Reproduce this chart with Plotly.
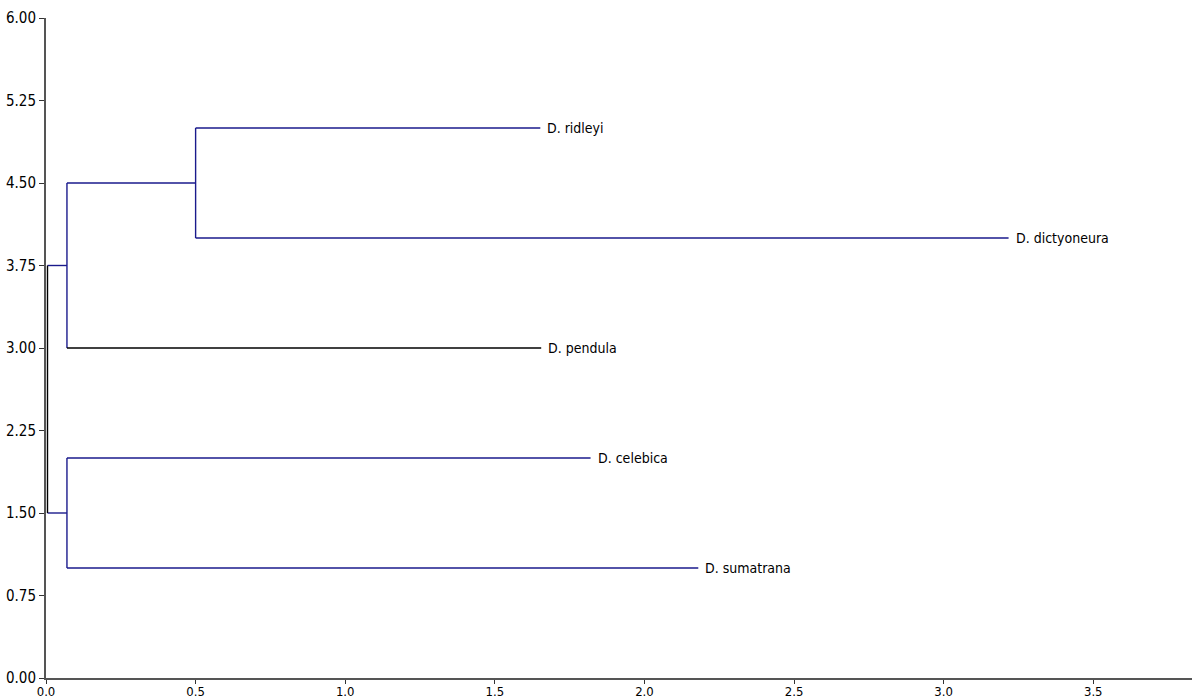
import plotly.graph_objects as go

# Leaves (top to bottom)
leaf_names = ["D. ridleyi", "D. dictyoneura", "D. pendula", "D. celebica", "D. sumatrana"]
leaf_y = [5.0, 4.0, 3.0, 2.0, 1.0]
leaf_x = [1.652, 3.217, 1.655, 1.82, 2.18]

# Internal nodes: name, x (height), children
node_names = ["N1", "N2", "N3", "root"]
node_x = [0.5, 0.07, 0.07, 0.005]
node_children = [["D. ridleyi", "D. dictyoneura"], ["N1", "D. pendula"],
                 ["D. celebica", "D. sumatrana"], ["N2", "N3"]]
black_edges = ["D. pendula"]

x_ticks = [0.0, 0.5, 1.0, 1.5, 2.0, 2.5, 3.0, 3.5]
y_ticks = [0.0, 0.75, 1.5, 2.25, 3.0, 3.75, 4.5, 5.25, 6.0]

NAVY = "#1a1a8c"
FONT = "DejaVu Sans Condensed, Liberation Sans Narrow, Arial Narrow, Liberation Sans, Arial, sans-serif"

pos = {n: (x, y) for n, x, y in zip(leaf_names, leaf_x, leaf_y)}
for name, x, ch in zip(node_names, node_x, node_children):
    ys = [pos[c][1] for c in ch]
    pos[name] = (x, sum(ys) / len(ys))

seg = {"navy": ([], []), "black": ([], [])}
for name, x, ch in zip(node_names, node_x, node_children):
    ys = [pos[c][1] for c in ch]
    vcol = "black" if name == "root" else "navy"
    seg[vcol][0].extend([x, x, None]); seg[vcol][1].extend([min(ys), max(ys), None])
    for c in ch:
        cx, cy = pos[c]
        col = "black" if c in black_edges else "navy"
        seg[col][0].extend([x, cx, None]); seg[col][1].extend([cy, cy, None])

fig = go.Figure()
fig.add_trace(go.Scatter(x=seg["navy"][0], y=seg["navy"][1], mode="lines",
                         line=dict(color=NAVY, width=1.4), hoverinfo="skip", showlegend=False))
fig.add_trace(go.Scatter(x=seg["black"][0], y=seg["black"][1], mode="lines",
                         line=dict(color="black", width=1.4), hoverinfo="skip", showlegend=False))

for n, x, y in zip(leaf_names, leaf_x, leaf_y):
    fig.add_annotation(x=x, y=y, text=n, showarrow=False, xanchor="left", yanchor="middle",
                       xshift=5, font=dict(family=FONT, size=14, color="black"))

fig.update_layout(
    width=1192, height=699,
    margin=dict(l=46, r=0, t=18, b=21),
    paper_bgcolor="white", plot_bgcolor="white",
    xaxis=dict(range=[0, 3.83], tickvals=x_ticks, ticktext=[f"{v:.1f}" for v in x_ticks],
               showgrid=False, zeroline=False, showline=True, linecolor="#555", linewidth=2,
               ticks="outside", ticklen=4, tickcolor="#333", automargin=False,
               ticklabelstandoff=-4,
               tickfont=dict(family=FONT, size=13, color="black")),
    yaxis=dict(range=[0, 6], tickvals=y_ticks, ticktext=[f"{v:.2f}" for v in y_ticks],
               showgrid=False, zeroline=False, showline=True, linecolor="#555", linewidth=2,
               ticks="outside", ticklen=5, tickcolor="#333", automargin=False,
               tickfont=dict(family=FONT, size=15, color="black")),
)

fig.write_html("out.html", config={"displayModeBar": False},
               post_script="document.body.style.margin='0';document.body.style.overflow='hidden';")
